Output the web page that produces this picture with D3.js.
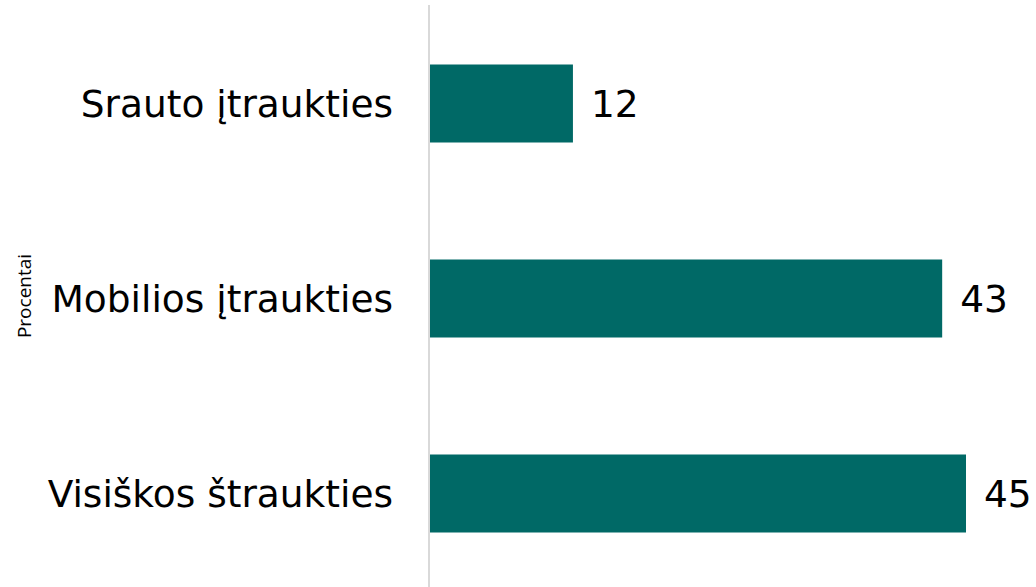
<!DOCTYPE html>
<html>
<head>
<meta charset="utf-8">
<script src="https://cdn.jsdelivr.net/npm/d3@7"></script>
<style>
  body { margin: 0; background: #fff; }
  svg { display: block; }
</style>
</head>
<body>
<div id="chart"></div>
<script>
// chart data
const categories = ['Srauto įtraukties', 'Mobilios įtraukties', 'Visiškos štraukties'];
const values = [12, 43, 45];
const axisTitle = 'Procentai';

const width = 1036, height = 587;

const svg = d3.select('#chart').append('svg')
    .attr('width', width)
    .attr('height', height);

// scales
const x = d3.scaleLinear()
    .domain([0, 45])
    .range([430, 966]);

const y = d3.scaleBand()
    .domain(categories)
    .range([6, 591])
    .paddingInner(0.6)
    .paddingOuter(0.3);

// bars
svg.selectAll('.bar')
    .data(values)
    .enter()
    .append('rect')
    .attr('class', 'bar')
    .attr('x', x(0))
    .attr('y', (d, i) => y(categories[i]))
    .attr('width', d => x(d) - x(0))
    .attr('height', y.bandwidth())
    .style('fill', '#006966');

// value labels
svg.selectAll('.val')
    .data(values)
    .enter()
    .append('text')
    .attr('class', 'val')
    .attr('x', d => x(d) + 18)
    .attr('y', (d, i) => y(categories[i]) + y.bandwidth() / 2)
    .attr('dy', '0.36em')
    .style('font-family', 'DejaVu Sans')
    .style('font-size', '37.5px')
    .style('fill', '#000')
    .text(d => d);

// category axis line + labels
svg.append('line')
    .attr('x1', 429).attr('x2', 429)
    .attr('y1', 5).attr('y2', height)
    .style('stroke', '#d9d9d9')
    .style('stroke-width', 2);

svg.selectAll('.cat')
    .data(categories)
    .enter()
    .append('text')
    .attr('class', 'cat')
    .attr('x', 393)
    .attr('y', d => y(d) + y.bandwidth() / 2)
    .attr('dy', '0.36em')
    .style('text-anchor', 'end')
    .style('font-family', 'DejaVu Sans')
    .style('font-size', '37.5px')
    .style('fill', '#000')
    .text(d => d);

// axis title
svg.append('text')
    .attr('transform', 'translate(31,296) rotate(-90)')
    .style('text-anchor', 'middle')
    .style('font-family', 'Open Sans')
    .style('font-size', '19px')
    .style('fill', '#000')
    .text(axisTitle);
</script>
</body>
</html>
